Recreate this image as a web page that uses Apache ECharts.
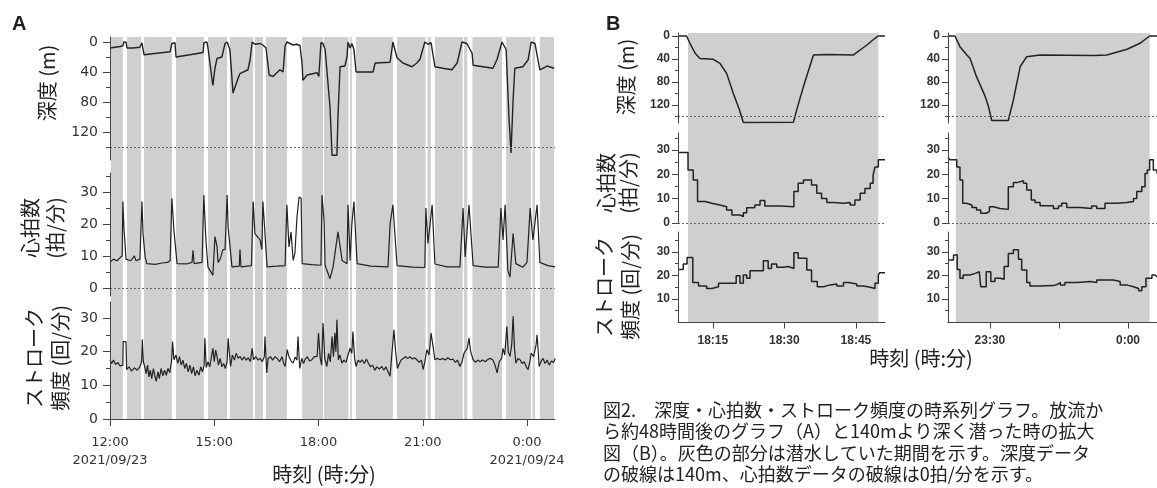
<!DOCTYPE html>
<html>
<head>
<meta charset="utf-8">
<script src="https://cdn.jsdelivr.net/npm/echarts@6/dist/echarts.min.js"></script>
<style>
  html, body { margin: 0; padding: 0; background: #fff; }
  #chart { width: 1157px; height: 488px; }
</style>
</head>
<body>
<div id="chart"></div>
<script>
// ---- data (A: decimal hours since 0:00 on 9/23, B: minutes since 0:00 on 9/23) ----
const diveA = [[12.03,12.37],[12.49,12.89],[12.98,13.78],[13.90,14.70],[14.82,15.37],[15.45,16.12],
  [16.17,16.40],[16.49,17.09],[17.53,18.13],[18.16,18.86],[18.91,18.96],[19.08,20.14],[20.26,21.08],
  [21.14,21.23],[21.35,22.15],[22.19,22.28],[22.43,23.28],[23.40,24.11],[24.16,24.23],[24.37,24.78]];

const depthA = [[12.00,8],[12.29,6],[12.37,5],[12.40,0],[12.46,0],[12.49,8],[12.66,8],[12.86,7],[12.92,1],
  [12.95,0],[12.98,17],[13.35,15],[13.73,13],[13.78,2],[13.87,1],[13.90,20],[14.30,17],[14.68,14],[14.70,1],
  [14.79,0],[14.82,8],[14.96,58],[15.02,35],[15.08,22],[15.22,20],[15.31,2],[15.37,0],[15.45,10],[15.54,68],
  [15.65,53],[15.74,42],[15.97,37],[16.03,24],[16.09,0],[16.17,3],[16.32,2],[16.40,4],[16.49,8],[16.58,44],
  [16.69,46],[16.89,37],[16.98,40],[17.04,5],[17.09,0],[17.27,4],[17.38,3],[17.47,5],[17.53,30],[17.55,51],
  [17.67,44],[17.96,41],[18.01,46],[18.07,1],[18.13,2],[18.16,1],[18.19,10],[18.33,86],[18.39,151],
  [18.53,151],[18.56,100],[18.62,33],[18.76,32],[18.82,20],[18.85,0],[18.91,8],[18.96,2],[19.02,10],
  [19.08,40],[19.57,40],[19.63,28],[20.06,27],[20.14,0],[20.26,21],[20.43,28],[20.69,33],[20.83,28],
  [20.92,23],[21.06,0],[21.15,3],[21.24,1],[21.35,33],[21.58,35],[21.84,37],[21.99,28],[22.13,0],
  [22.27,2],[22.42,15],[22.45,31],[23.02,35],[23.14,23],[23.28,0],[23.40,10],[23.48,100],[23.54,148],
  [23.60,77],[23.65,35],[23.88,33],[24.03,24],[24.12,0],[24.23,2],[24.37,37],[24.58,32],[24.78,35]];

const heartA = [[12.00,8],[12.10,9],[12.20,8.5],[12.29,9.5],[12.35,10],[12.37,27],[12.40,19],[12.46,9],
  [12.60,8.5],[12.70,10],[12.75,8.5],[12.86,9],[12.92,27],[12.95,17],[13.01,9.7],[13.06,7.6],[13.30,7.4],
  [13.50,7.8],[13.65,8],[13.73,8.5],[13.78,28],[13.84,18],[13.93,7.6],[14.20,7.5],[14.36,8],[14.39,11.8],
  [14.42,7.6],[14.65,8],[14.70,29],[14.76,15],[14.82,6.5],[14.96,4],[15.02,16],[15.08,13],[15.11,8],
  [15.17,9],[15.25,12],[15.31,12],[15.37,29],[15.40,19],[15.51,6.6],[15.72,6.8],[15.74,12],[15.77,6.6],
  [16.07,7],[16.12,27],[16.17,17],[16.32,15],[16.37,12],[16.40,27],[16.46,17],[16.52,6.6],[16.80,6.8],
  [17.04,7],[17.06,16],[17.09,26],[17.15,12.8],[17.21,17.5],[17.27,8.6],[17.32,10.7],[17.38,22],
  [17.44,28.4],[17.50,28],[17.53,7.6],[17.80,7.3],[18.07,7.1],[18.10,29],[18.13,29],[18.16,21],[18.19,7.1],
  [18.33,2.9],[18.42,6.6],[18.56,17.5],[18.68,8.6],[18.82,7.6],[18.85,26],[18.91,8.6],[18.96,20],
  [19.02,27],[19.11,7.6],[19.50,6.8],[20.00,6.6],[20.06,20],[20.14,26],[20.26,7],[20.70,6.5],[21.06,6.4],
  [21.09,25],[21.15,13.9],[21.27,26],[21.35,7.5],[21.70,6.6],[22.07,6.6],[22.16,25],[22.22,9.7],
  [22.33,26],[22.45,7],[22.80,6.5],[23.17,6.5],[23.25,25],[23.31,15],[23.37,26],[23.45,5.5],[23.51,3.4],
  [23.60,17],[23.68,7.6],[23.88,6.5],[24.00,8],[24.09,25],[24.17,15],[24.29,26],[24.37,8],[24.60,7],
  [24.81,6.6]];

const strokeA = [[12.00,17.6],[12.05,16.5],[12.10,17.5],[12.16,16.2],[12.22,16.8],[12.29,15.8],[12.37,16],
  [12.38,23],[12.46,23],[12.48,14.7],[12.55,15.5],[12.62,14.2],[12.70,15.2],[12.78,14.5],[12.86,15.5],
  [12.91,17],[12.93,23.6],[12.96,17],[13.00,15.5],[13.04,13.5],[13.08,16],[13.12,12.5],[13.16,14.5],
  [13.20,12],[13.25,15],[13.29,12.8],[13.33,11.2],[13.38,14],[13.42,12],[13.47,15],[13.52,12.8],
  [13.57,14.5],[13.62,13],[13.67,15],[13.72,13.8],[13.77,17],[13.80,23],[13.84,17.6],[13.90,19],
  [13.95,16.5],[14.00,18.5],[14.05,16],[14.10,17.5],[14.15,15],[14.20,16.5],[14.25,14],[14.30,16],
  [14.35,13.5],[14.40,15.5],[14.45,12.8],[14.50,14.5],[14.56,13],[14.61,15.5],[14.66,14],[14.71,16],
  [14.73,24],[14.77,15.3],[14.82,17],[14.87,15.5],[14.92,18.5],[14.96,21],[15.00,17],[15.04,20.5],
  [15.08,18.6],[15.12,16],[15.17,18],[15.22,15.5],[15.27,16.5],[15.32,15],[15.37,17],[15.40,24],
  [15.47,15.6],[15.52,19],[15.58,17.5],[15.63,19.5],[15.69,18],[15.74,18.6],[15.80,17.5],[15.86,18.5],
  [15.92,17.5],[15.98,18.2],[16.04,17],[16.09,21],[16.13,17.6],[16.20,18.5],[16.26,17.5],[16.32,18],
  [16.38,17],[16.44,18.5],[16.46,24.5],[16.51,13.7],[16.55,18],[16.62,18.5],[16.68,17.5],[16.75,18.5],
  [16.81,18],[16.88,17],[16.95,18.5],[17.00,16.5],[17.04,15.6],[17.10,20.6],[17.15,18.5],[17.21,17.2],
  [17.27,16.6],[17.33,18.4],[17.38,17.5],[17.41,24.5],[17.46,15],[17.52,18],[17.57,16.5],[17.61,17.6],
  [17.68,18.5],[17.74,17.2],[17.81,17.6],[17.88,18.5],[17.96,18.6],[18.00,25.5],[18.05,18],[18.09,16],
  [18.13,28.5],[18.18,18],[18.24,15.6],[18.29,19.5],[18.34,17],[18.39,24.5],[18.43,18.5],[18.47,25.5],
  [18.50,20],[18.53,29.5],[18.57,17.6],[18.62,19],[18.67,16.6],[18.73,17.5],[18.79,16.8],[18.85,19],
  [18.91,21],[18.96,19.5],[18.99,26],[19.04,18],[19.08,15.6],[19.14,17.5],[19.20,16.8],[19.25,17.6],
  [19.32,16.5],[19.38,17.8],[19.44,16.5],[19.50,15.5],[19.56,16],[19.62,14.5],[19.68,15.5],[19.75,14.8],
  [19.82,15.6],[19.88,14.5],[19.94,15.5],[20.00,14],[20.06,12.7],[20.10,18],[20.17,26.5],[20.22,20],
  [20.27,15],[20.33,16.5],[20.38,17.5],[20.43,17],[20.50,18.5],[20.57,18],[20.63,18.5],[20.70,17.8],
  [20.76,18.2],[20.83,17.6],[20.90,16.8],[20.96,17.5],[21.01,14.7],[21.06,17],[21.12,20.6],[21.18,19],
  [21.24,25.5],[21.29,22],[21.35,17.6],[21.42,18],[21.50,17.6],[21.58,18],[21.65,17.5],[21.72,18.2],
  [21.80,17.6],[21.87,17.8],[21.94,16.8],[22.00,17.5],[22.07,15.6],[22.13,17],[22.19,19.6],[22.28,21],
  [22.33,24],[22.38,20],[22.45,17.6],[22.52,16.8],[22.58,17.5],[22.65,17],[22.72,17.5],[22.80,17],
  [22.88,17.8],[22.95,18],[23.02,17.5],[23.08,16],[23.14,13.7],[23.20,17],[23.27,18],[23.31,21],
  [23.36,19],[23.42,27.5],[23.46,20],[23.51,18.6],[23.56,22],[23.60,30.5],[23.64,21],[23.68,16.6],
  [23.74,18],[23.80,17.6],[23.86,16.5],[23.92,17],[23.98,15.5],[24.03,14.7],[24.08,17],[24.12,19.6],
  [24.19,18.5],[24.26,22],[24.29,25],[24.33,19],[24.35,15.6],[24.40,17],[24.46,18],[24.52,16.5],
  [24.58,17.5],[24.64,16],[24.70,17.2],[24.76,16.8],[24.81,18]];

const diveBL = [[1089.8,1129.7]];
const diveBR = [[1402.6,1444.7]];

const depthBL = [[1087.7,0],[1089.5,0],[1090.2,12.7],[1091.3,30],[1092.3,39],[1095.1,40.6],[1096.5,47.5],
  [1097.9,65],[1099.3,100],[1100.6,128.7],[1101.4,150.5],[1111.9,150],[1112.6,128],[1114.0,88],[1116.1,33],
  [1118.9,32],[1124.5,33],[1127.3,15.7],[1129.0,4],[1129.7,0],[1131.1,0]];
const heartBL = [[1087.7,29],[1089.8,21.8],[1090.9,17.7],[1091.8,8.8],[1093.4,8.1],[1094.8,7.4],
  [1096.5,6.7],[1097.9,5.3],[1099.0,3.3],[1100.7,2.6],[1101.4,4.2],[1102.1,6.3],[1103.8,7.4],[1104.9,9.2],
  [1105.9,7],[1109.1,6.7],[1112.0,12.9],[1112.9,16.3],[1114.0,17.7],[1115.7,15.6],[1116.8,12.2],
  [1117.8,10.1],[1118.9,8.4],[1120.3,8.1],[1122.4,8.4],[1123.8,7.4],[1124.8,9.5],[1125.9,12.2],
  [1126.9,14.2],[1128.0,16.3],[1128.6,19.7],[1129.0,23],[1129.7,26],[1131.1,26]];
const strokeBL = [[1087.7,22.6],[1088.8,24.9],[1089.6,27.6],[1090.8,17],[1092.0,15.5],[1093.7,14.5],
  [1094.8,15.2],[1096.2,16.7],[1099.9,19.9],[1100.7,16.7],[1101.4,20.2],[1102.1,18.8],[1102.8,22],
  [1105.6,26.3],[1106.6,23],[1107.3,24.9],[1108.4,23.5],[1109.8,23.8],[1110.8,23],[1112.0,29.7],
  [1112.9,27.3],[1114.7,22.3],[1115.7,17.4],[1116.9,15.2],[1118.2,16],[1119.6,16.4],[1121.0,15.5],
  [1122.4,17],[1123.4,16.4],[1125.2,15.5],[1126.6,15],[1128.0,14.5],[1129.0,16.7],[1129.7,20.2],
  [1130.0,21.2],[1131.1,21.2]];

const depthBR = [[1400.9,0],[1402.4,0],[1403.5,18.6],[1405.0,33],[1405.7,39],[1407.1,70.7],[1409.0,105.5],
  [1409.7,123],[1410.4,147],[1414.0,147],[1415.1,111],[1416.6,53],[1418.0,36],[1420.9,33],[1432.5,34],
  [1435.4,33],[1439.8,23],[1442.6,12.7],[1444.7,0],[1446.3,0]];
const heartBR = [[1400.9,27],[1401.3,26],[1402.8,23],[1403.5,17.7],[1404.1,8.1],[1404.9,7.4],[1406.1,6.4],
  [1407.1,5.3],[1408.0,4],[1409.2,4.7],[1409.9,6.7],[1410.8,6],[1412.2,5.6],[1414.0,14.9],[1415.1,16.6],
  [1415.9,17.4],[1417.3,16.3],[1418.0,13.6],[1419.0,9.5],[1419.8,8.4],[1420.9,7.1],[1423.8,6],[1424.9,7],
  [1425.6,8.1],[1426.7,6.4],[1429.6,6],[1432.1,7],[1433.2,6],[1435.0,8.1],[1437.6,8.4],[1439.7,8.8],
  [1441.2,10.1],[1441.9,12.9],[1443.0,14.9],[1443.7,20.4],[1444.2,21.8],[1444.7,26],[1445.5,21.8],
  [1446.3,20.4]];
const strokeBR = [[1400.9,26.6],[1402.1,28.7],[1402.9,22.6],[1403.5,18.8],[1404.2,20.2],[1405.7,20.9],
  [1406.8,21.6],[1407.7,22],[1408.0,15.2],[1409.2,21.6],[1410.2,17.4],[1411.1,18.8],[1412.2,18.4],
  [1413.1,23.8],[1414.0,29.4],[1415.1,30.9],[1416.2,26.9],[1416.9,22.3],[1418.0,17],[1418.7,15.5],
  [1420.9,15.7],[1423.8,16.2],[1424.6,17],[1425.3,16],[1426.3,17],[1428.9,17.4],[1431.8,17],[1433.2,18.1],
  [1436.8,17.4],[1438.3,16],[1439.7,15.2],[1441.2,14.5],[1442.3,13.5],[1443.0,15.2],[1443.9,18.8],
  [1445.2,20.2],[1445.9,19.5],[1446.3,19.5]];

// tick positions
const timeTicksA = [12, 15, 18, 21, 24];
const timeTicksBL = [1095, 1110, 1125];
const timeTicksBR = [1410, 1425, 1440];
const timeLabelsBR = [1410, 1440];
const depthTicks = [0, 40, 80, 120];
const depthMinor = [20, 60, 100, 140];
const rateTicks = [0, 10, 20, 30];
const rateMinor = [5, 15, 25, 35];
const strokeTicksB = [10, 20, 30];

const DEPTH_REF = 140;
const HEART_REF = 0;

// ---- chart ----
const chart = echarts.init(document.getElementById('chart'));

const GRAY = '#cfcfcf';
const INK = '#222';
const AXIS = '#444';
const JP = '"Noto Sans CJK JP", sans-serif';

const styleA = {font: 'DejaVu Sans', size: 14, weight: 'normal', color: '#333', margin: 12, major: 7, minor: 4};
const styleB = {font: 'Liberation Sans', size: 12, weight: 'bold', color: '#333', margin: 8, major: 6, minor: 3};

const grid = [];
const xAxis = [];
const yAxis = [];
const series = [];

const addGrid = (box, xmin, xmax) => {
  grid.push(box);
  const gi = grid.length - 1;
  xAxis.push({type: 'value', gridIndex: gi, min: xmin, max: xmax, show: false});
  return gi;
};

// main axis (labels + long ticks) and a second one for the short ticks
const addY = (gi, min, max, labels, minors, inverse, st) => {
  yAxis.push({
    type: 'value', gridIndex: gi, min, max, inverse, z: 5,
    axisLine: {show: true, onZero: false, lineStyle: {color: AXIS}},
    axisTick: {show: true, customValues: labels, length: st.major, lineStyle: {color: AXIS}},
    axisLabel: {customValues: labels, margin: st.margin, color: st.color, fontFamily: st.font,
      fontSize: st.size, fontWeight: st.weight},
    splitLine: {show: false}
  });
  const main = yAxis.length - 1;
  yAxis.push({
    type: 'value', gridIndex: gi, min, max, inverse, position: 'left', z: 5,
    axisLine: {show: false, onZero: false},
    axisTick: {show: true, customValues: minors, length: st.minor, lineStyle: {color: AXIS}},
    axisLabel: {show: false},
    splitLine: {show: false}
  });
  return main;
};

const addBands = (gi, dives, xmin) => {
  yAxis.push({type: 'value', gridIndex: gi, min: 0, max: 1, show: false});
  series.push({
    type: 'line', xAxisIndex: gi, yAxisIndex: yAxis.length - 1, data: [[xmin, 0.5]], z: 1,
    showSymbol: false, silent: true, lineStyle: {opacity: 0},
    markArea: {silent: true, itemStyle: {color: GRAY}, data: dives.map(d => [{xAxis: d[0]}, {xAxis: d[1]}])}
  });
};

const refLine = (v) => ({
  silent: true, symbol: 'none', label: {show: false},
  lineStyle: {type: [2, 2], color: '#666', width: 1}, data: [{yAxis: v}]
});

const addLine = (gi, yi, data, width, step, ref) => series.push({
  type: 'line', xAxisIndex: gi, yAxisIndex: yi, data, step: step || false, symbol: 'none',
  silent: true, z: 3, lineStyle: {color: INK, width},
  markLine: ref === undefined ? undefined : refLine(ref)
});

const fmtMin = (m) => {
  const h = Math.floor(m / 60) % 24;
  const mm = Math.round(m % 60);
  return h + ':' + (mm < 10 ? '0' + mm : mm);
};

const showX = (gi, ticks, labels, fmt, st, len, lh) => {
  Object.assign(xAxis[gi], {
    show: true, z: 5,
    axisLine: {show: true, onZero: false, lineStyle: {color: AXIS}},
    axisTick: {show: true, customValues: ticks, length: len, lineStyle: {color: AXIS}},
    axisLabel: {customValues: labels, formatter: fmt, margin: st.xmargin, color: st.color,
      fontFamily: st.font, fontSize: st.xsize || st.size, fontWeight: st.weight, lineHeight: lh},
    splitLine: {show: false}
  });
};

// panel A
const xA = [12, 24.8];
const gAbg = addGrid({left: 110, top: 37, width: 444.8, height: 382}, xA[0], xA[1]);
addBands(gAbg, diveA, xA[0]);
const gA1 = addGrid({left: 110, top: 37, width: 444.8, height: 123}, xA[0], xA[1]);
addLine(gA1, addY(gA1, -6.67, 157.3, depthTicks, depthMinor, true, styleA), depthA, 1.4, false, DEPTH_REF);
const gA2 = addGrid({left: 110, top: 173, width: 444.8, height: 123}, xA[0], xA[1]);
addLine(gA2, addY(gA2, -2.5, 35.9, rateTicks, rateMinor, false, styleA), heartA, 1.2, false, HEART_REF);
const gA3 = addGrid({left: 110, top: 302, width: 444.8, height: 117}, xA[0], xA[1]);
addLine(gA3, addY(gA3, 0, 34.75, rateTicks, rateMinor, false, styleA), strokeA, 1.2);
showX(gA3, timeTicksA, timeTicksA, (v) => {
  if (v === 12) return '12:00\n2021/09/23';
  if (v === 24) return '0:00\n2021/09/24';
  return v + ':00';
}, Object.assign({xmargin: 15, xsize: 13}, styleA), 7, 18);

// panel B, two columns
const colsB = [
  {left: 678, width: 207, x: [1087.7, 1131.1], dive: diveBL, depth: depthBL, heart: heartBL, stroke: strokeBL,
    ticks: timeTicksBL, labels: timeTicksBL},
  {left: 948, width: 209, x: [1400.9, 1446.3], dive: diveBR, depth: depthBR, heart: heartBR, stroke: strokeBR,
    ticks: timeTicksBR, labels: timeLabelsBR}
];
colsB.forEach(c => {
  const bg = addGrid({left: c.left, top: 33, width: c.width, height: 289.5}, c.x[0], c.x[1]);
  addBands(bg, c.dive, c.x[0]);
  const g1 = addGrid({left: c.left, top: 33, width: c.width, height: 90}, c.x[0], c.x[1]);
  addLine(g1, addY(g1, -5.2, 151.3, depthTicks, depthMinor, true, styleB), c.depth, 1.5, false, DEPTH_REF);
  const g2 = addGrid({left: c.left, top: 133, width: c.width, height: 90}, c.x[0], c.x[1]);
  addLine(g2, addY(g2, 0, 37, rateTicks, rateMinor, false, styleB), c.heart, 1.5, 'end', HEART_REF);
  const g3 = addGrid({left: c.left, top: 232, width: c.width, height: 90.5}, c.x[0], c.x[1]);
  addLine(g3, addY(g3, 0, 38.5, strokeTicksB, rateMinor, false, styleB), c.stroke, 1.5, 'end');
  showX(g3, c.ticks, c.labels, fmtMin, Object.assign({xmargin: 11}, styleB), 6, 14);
});

// titles and captions
const vText = (x, y, text, lh) => ({
  type: 'text', x, y, rotation: Math.PI / 2, silent: true,
  style: {text, fontSize: 20, fontFamily: JP, fill: INK, align: 'center', verticalAlign: 'middle', lineHeight: lh || 24}
});
const hText = (x, y, text, size, family, weight, align) => ({
  type: 'text', x, y, silent: true,
  style: {text, fontSize: size, fontFamily: family, fontWeight: weight || 'normal', fill: INK,
    align: align || 'center', verticalAlign: 'middle'}
});

const captionLines = [
  '図2.　深度・心拍数・ストローク頻度の時系列グラフ。放流か',
  'ら約48時間後のグラフ（A）と140mより深く潜った時の拡大',
  '図（B）。灰色の部分は潜水していた期間を示す。深度データ',
  'の破線は140m、心拍数データの破線は0拍/分を示す。'
];

const graphic = [
  hText(12, 24, 'A', 20, 'Liberation Sans', 'bold', 'left'),
  hText(606, 24, 'B', 20, 'Liberation Sans', 'bold', 'left'),
  vText(47, 83, '深度 (m)'),
  vText(43, 228, '心拍数\n(拍/分)', 25),
  vText(47, 358, 'ストローク\n頻度 (回/分)', 26),
  hText(324, 474, '時刻 (時:分)', 20, JP),
  vText(626, 77, '深度 (m)'),
  vText(617, 183, '心拍数\n(拍/分)', 22),
  vText(617, 287, 'ストローク\n頻度 (回/分)', 26),
  hText(921, 358, '時刻 (時:分)', 20, JP)
];
captionLines.forEach((t, i) => graphic.push(hText(603, 410 + i * 21.5, t, 18, JP, 'normal', 'left')));

chart.setOption({
  animation: false,
  backgroundColor: '#fff',
  grid, xAxis, yAxis, series, graphic
});
</script>
</body>
</html>
